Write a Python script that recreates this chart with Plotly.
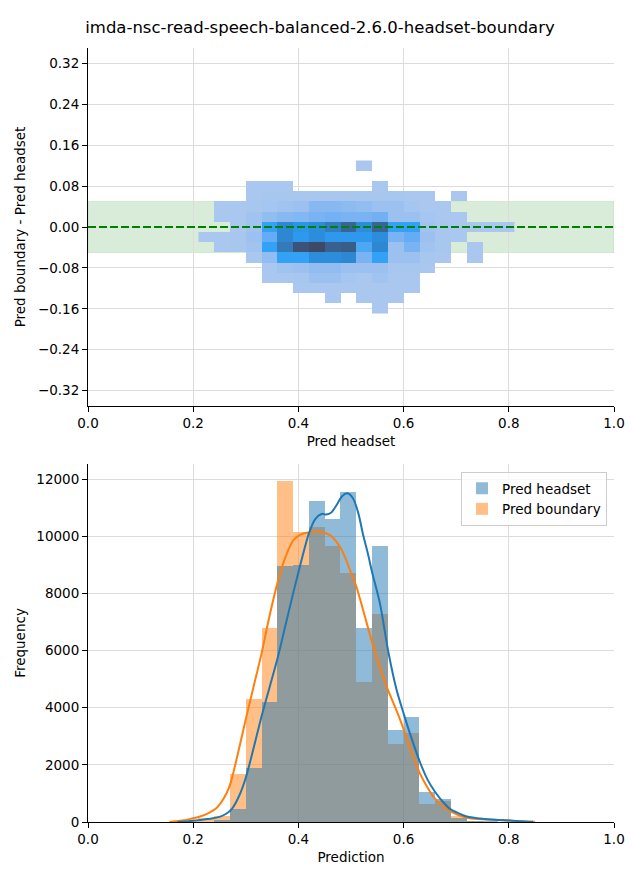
import plotly.graph_objects as go

# ---------------- data ----------------
title_text = "imda-nsc-read-speech-balanced-2.6.0-headset-boundary"

# 2D histogram (top): bin centres and relative cell intensity (None = empty)
hm_x = [0.225, 0.255, 0.285, 0.315, 0.345, 0.375, 0.405, 0.435, 0.465, 0.495,
        0.525, 0.555, 0.585, 0.615, 0.645, 0.675, 0.705, 0.735, 0.765, 0.795]
hm_y = [0.12, 0.10, 0.08, 0.06, 0.04, 0.02, 0.00, -0.02, -0.04, -0.06,
        -0.08, -0.10, -0.12, -0.14, -0.16]
N = None
hm_z = [
    [N, N, N, N, N, N, N, N, N, N, 4, N, N, N, N, N, N, N, N, N],
    [N, N, N, N, N, N, N, N, N, N, N, N, N, N, N, N, N, N, N, N],
    [N, N, N, 4, 4, 4, N, N, N, N, N, 4, N, N, N, N, N, N, N, N],
    [N, N, N, 4, 6, 6, 6, 6, 6, 6, 6, 6, 6, 5, 4, N, 4, N, N, N],
    [N, 4, 4, 6, 8, 12, 15, 28, 28, 25, 22, 15, 15, 8, 5, 4, N, N, N, N],
    [N, 4, 5, 12, 22, 28, 30, 35, 37, 35, 35, 38, 15, 15, 8, 5, 4, N, N, N],
    [N, N, 5, 12, 57, 74, 65, 70, 79, 87, 70, 87, 57, 57, 12, 6, 5, 4, 4, 4],
    [4, 5, 6, 15, 43, 74, 63, 70, 63, 63, 63, 70, 35, 43, 15, 6, 4, N, N, N],
    [N, 4, 6, 12, 57, 81, 95, 100, 88, 90, 50, 74, 15, 35, 12, 6, N, 4, N, N],
    [N, N, N, 5, 22, 57, 57, 70, 70, 74, 35, 57, 15, 15, 6, 5, N, 4, N, N],
    [N, N, N, N, 4, 12, 15, 22, 22, 15, 15, 15, 6, 6, 4, N, N, N, N, N],
    [N, N, N, N, 4, 5, 6, 15, 15, 8, 5, 12, 5, 4, N, N, N, N, N, N],
    [N, N, N, N, N, N, 4, 5, 5, 5, 4, 5, 4, 4, N, N, N, N, N, N],
    [N, N, N, N, N, N, N, N, 4, N, 4, 4, 4, N, N, N, N, N, N, N],
    [N, N, N, N, N, N, N, N, N, N, N, 4, N, N, N, N, N, N, N, N],
]
band_half_width = 0.05

# Histograms (bottom): bin centres (width 0.03) and counts
bin_centers = [0.195, 0.225, 0.255, 0.285, 0.315, 0.345, 0.375, 0.405, 0.435, 0.465,
               0.495, 0.525, 0.555, 0.585, 0.615, 0.645, 0.675, 0.705, 0.735, 0.765,
               0.795, 0.825]
bin_width = 0.03
counts_headset = [0, 15, 60, 455, 1900, 4210, 8970, 8990, 11230, 10600,
                  11540, 6790, 9650, 3220, 3670, 1040, 800, 150, 40, 20, 10, 3]
counts_boundary = [30, 130, 210, 1680, 4300, 6790, 11930, 10140, 10330, 9655,
                   8720, 4910, 7290, 2720, 3110, 640, 730, 220, 40, 15, 5, 0]

# KDE curves (in count units)
kde_headset_x = [0.17, 0.19, 0.213, 0.235, 0.25, 0.262, 0.274, 0.287, 0.30, 0.315, 0.33,
                 0.345, 0.36, 0.375, 0.39, 0.405, 0.42, 0.432, 0.444, 0.453, 0.462,
                 0.473, 0.483, 0.493, 0.504, 0.514, 0.523, 0.532, 0.54, 0.555, 0.571,
                 0.587, 0.60, 0.612, 0.631, 0.645, 0.66, 0.675, 0.688, 0.705, 0.72,
                 0.75, 0.783, 0.82, 0.846]
kde_headset_y = [0, 25, 70, 120, 180, 280, 470, 900, 1550, 2600, 3700,
                 4700, 5700, 6850, 8000, 9100, 10100, 10600, 10780, 10760, 10820,
                 11100, 11400, 11500, 11320, 10800, 10050, 9400, 8750, 7650, 5950,
                 4600, 3800, 3100, 2100, 1500, 1050, 700, 460, 300, 190,
                 110, 70, 30, 10]
kde_boundary_x = [0.155, 0.175, 0.195, 0.213, 0.23, 0.245, 0.258, 0.27, 0.285, 0.30,
                  0.315, 0.33, 0.345, 0.36, 0.375, 0.39, 0.403, 0.416, 0.441, 0.46,
                  0.479, 0.489, 0.498, 0.51, 0.523, 0.5425, 0.555, 0.568, 0.593, 0.615,
                  0.631, 0.644, 0.656, 0.669, 0.688, 0.72, 0.75, 0.783, 0.82, 0.85]
kde_boundary_y = [0, 40, 110, 190, 320, 500, 820, 1300, 2400, 3600,
                  4750, 5900, 7200, 8350, 9250, 9850, 10050, 10120, 10155, 10040,
                  9630, 9250, 8815, 8250, 7416, 6130, 5400, 4730, 3600, 2450,
                  1700, 1250, 900, 650, 380, 150, 100, 70, 25, 5]

x_ticks = [0.0, 0.2, 0.4, 0.6, 0.8, 1.0]
diff_ticks = [-0.32, -0.24, -0.16, -0.08, 0.0, 0.08, 0.16, 0.24, 0.32]
freq_ticks = [0, 2000, 4000, 6000, 8000, 10000, 12000]

# ---------------- figure ----------------
FONT = "DejaVu Sans"
OFF = 8                      # page body margin of the browser
W, H = 640 - OFF, 880 - OFF  # figure size that fits the window


def fx(px):
    return (px - OFF) / W


def fy(py):
    return (H - (py - OFF)) / H


xdom = [fx(88), fx(614)]
top_dom = [fy(406), fy(48)]
bot_dom = [fy(822), fy(464)]

fig = go.Figure()

colorscale = [
    [0.0, "#afcbee"], [0.04, "#aac8ef"], [0.12, "#a0c3f0"], [0.22, "#92bdf1"],
    [0.35, "#7ab3f4"], [0.45, "#5eaaf5"], [0.57, "#33a2f6"], [0.65, "#2b95e8"],
    [0.74, "#2d87d2"], [0.81, "#3479b8"], [0.88, "#3a6090"], [1.0, "#3c4a68"],
]
fig.add_trace(go.Heatmap(
    x=hm_x, y=hm_y, z=hm_z, colorscale=colorscale, zmin=0, zmax=100,
    showscale=False, xaxis="x", yaxis="y", hoverongaps=False,
))

fig.add_trace(go.Bar(
    x=bin_centers, y=counts_boundary, width=bin_width, name="Pred boundary",
    marker=dict(color="rgba(255,127,14,0.5)", line=dict(width=0)),
    xaxis="x2", yaxis="y2", legendrank=2,
))
fig.add_trace(go.Bar(
    x=bin_centers, y=counts_headset, width=bin_width, name="Pred headset",
    marker=dict(color="rgba(31,119,180,0.5)", line=dict(width=0)),
    xaxis="x2", yaxis="y2", legendrank=1,
))
fig.add_trace(go.Scatter(
    x=kde_boundary_x, y=kde_boundary_y, mode="lines",
    line=dict(color="#ff7f0e", width=2, shape="spline", smoothing=0.8),
    showlegend=False, xaxis="x2", yaxis="y2",
))
fig.add_trace(go.Scatter(
    x=kde_headset_x, y=kde_headset_y, mode="lines",
    line=dict(color="#1f77b4", width=2, shape="spline", smoothing=0.8),
    showlegend=False, xaxis="x2", yaxis="y2",
))

# band and dashed zero line
fig.add_shape(type="rect", xref="x", yref="y", x0=0, x1=1,
              y0=-band_half_width, y1=band_half_width,
              fillcolor="rgba(0,128,0,0.15)", line=dict(color="rgba(0,128,0,0.12)", width=1),
              layer="below")
fig.add_shape(type="line", xref="x", yref="y", x0=0, x1=1, y0=0, y1=0,
              line=dict(color="green", width=2, dash="8px,3px"), layer="above")

axis_common = dict(
    showgrid=True, gridcolor="#dcdcdc", gridwidth=1, zeroline=False,
    showline=True, linecolor="black", linewidth=1.1, ticks="outside",
    ticklen=5, tickwidth=1.1, tickcolor="black", mirror=False, automargin=False,
    tickfont=dict(family=FONT, size=13.5, color="black"),
)

fig.update_layout(
    width=W, height=H, margin=dict(l=0, r=0, t=0, b=0, autoexpand=False),
    paper_bgcolor="white", plot_bgcolor="white",
    font=dict(family=FONT, size=14, color="black"),
    barmode="overlay", bargap=0,
    title=dict(text=title_text, x=fx(320), xanchor="center", y=fy(27), yanchor="middle",
               xref="paper", yref="container",
               font=dict(family=FONT, size=16.5, color="black")),
    xaxis=dict(domain=xdom, anchor="y", range=[0, 1], tickvals=x_ticks, tickformat=".1f",
               title=dict(text="Pred headset", standoff=6, font=dict(size=13.5)), **axis_common),
    yaxis=dict(domain=top_dom, anchor="x", range=[-0.35, 0.35], tickvals=diff_ticks, tickformat=".2f",
               title=dict(text="Pred boundary - Pred headset", standoff=9, font=dict(size=13.5)), **axis_common),
    xaxis2=dict(domain=xdom, anchor="y2", range=[0, 1], tickvals=x_ticks, tickformat=".1f",
                title=dict(text="Prediction", standoff=6, font=dict(size=13.5)), **axis_common),
    yaxis2=dict(domain=bot_dom, anchor="x2", range=[0, 12527], tickvals=freq_ticks, tickformat="d",
                title=dict(text="Frequency", standoff=7, font=dict(size=13.5)), **axis_common),
    legend=dict(x=fx(607), xanchor="right", y=fy(472), yanchor="top",
                bgcolor="rgba(255,255,255,0.8)", bordercolor="#cccccc", borderwidth=1,
                tracegroupgap=0, itemsizing="constant",
                font=dict(family=FONT, size=13.5, color="black")),
)

fig.write_html("out.html")
